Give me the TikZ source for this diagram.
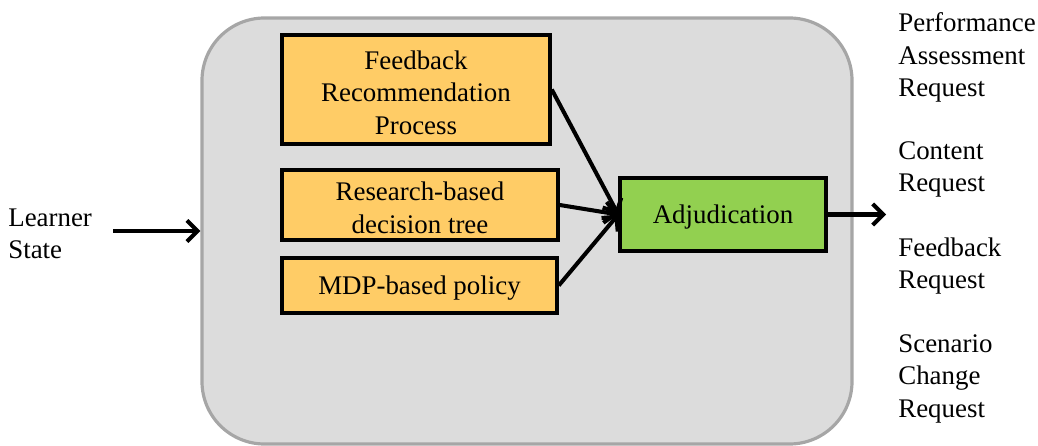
\documentclass[tikz,border=0pt]{standalone}
\usepackage{fontspec}
\setmainfont{Liberation Serif}
\usetikzlibrary{arrows.meta}
\definecolor{panelgray}{HTML}{DCDCDC}
\definecolor{panelline}{HTML}{A6A6A6}
\definecolor{boxorange}{HTML}{FFCC66}
\definecolor{boxgreen}{HTML}{92D050}
\newcommand{\lift}{\rule{0pt}{14pt}}
\tikzset{
  txt/.style={font=\fontsize{15.3}{18.5}\selectfont},
  panel/.style={draw=panelline, fill=panelgray, line width=1.8pt, rounded corners=1.25cm},
  stepbox/.style={txt, draw, line width=2pt, fill=boxorange, align=center, inner sep=0pt},
  decide/.style={txt, draw, line width=2pt, fill=boxgreen, inner sep=0pt},
  flow/.style={line width=2.3pt, -{Straight Barb[length=6pt,width=12pt]}}
}
\begin{document}
\begin{tikzpicture}[x=0.2mm, y=-0.2mm]
  \useasboundingbox (0,0) rectangle (1038,445);
  \node[panel, minimum width=13cm, minimum height=8.52cm] (engine) at (527,231) {};
  \node[stepbox, minimum width=5.36cm, minimum height=2.18cm] (frp) at (416,89.5)
    {\lift Feedback\\Recommendation\\Process};
  \node[stepbox, minimum width=5.52cm, minimum height=1.4cm] (tree) at (420,205)
    {\lift Research-based\\decision tree};
  \node[stepbox, minimum width=5.5cm, minimum height=1.1cm] (mdp) at (419.5,285.5)
    {\lift MDP-based policy};
  \node[decide, minimum width=4.12cm, minimum height=1.46cm] (adj) at (723,214.5)
    {\lift Adjudication};
  \node[txt, align=left, anchor=west, inner sep=0pt] (learner) at (8,234)
    {Learner\\State};
  \coordinate (instart) at (113,231);
  \coordinate (outend) at (886,214.5);
  % outputs
  \node[txt, align=left, anchor=west, inner sep=0pt] (perf) at (898,57.5)
    {Performance\\Assessment\\Request};
  \node[txt, align=left, anchor=west, inner sep=0pt] (content) at (898,169.5)
    {Content\\Request};
  \node[txt, align=left, anchor=west, inner sep=0pt] (fbreq) at (898,266)
    {Feedback\\Request};
  \node[txt, align=left, anchor=west, inner sep=0pt] (scen) at (898,378.5)
    {Scenario\\Change\\Request};
  \draw[flow] (instart) -- (engine.west);
  \draw[flow] (frp.east) -- (adj.west);
  \draw[flow] (tree.east) -- (adj.west);
  \draw[flow] (mdp.east) -- (adj.west);
  \draw[flow] (adj.east) -- (outend);
\end{tikzpicture}
\end{document}
